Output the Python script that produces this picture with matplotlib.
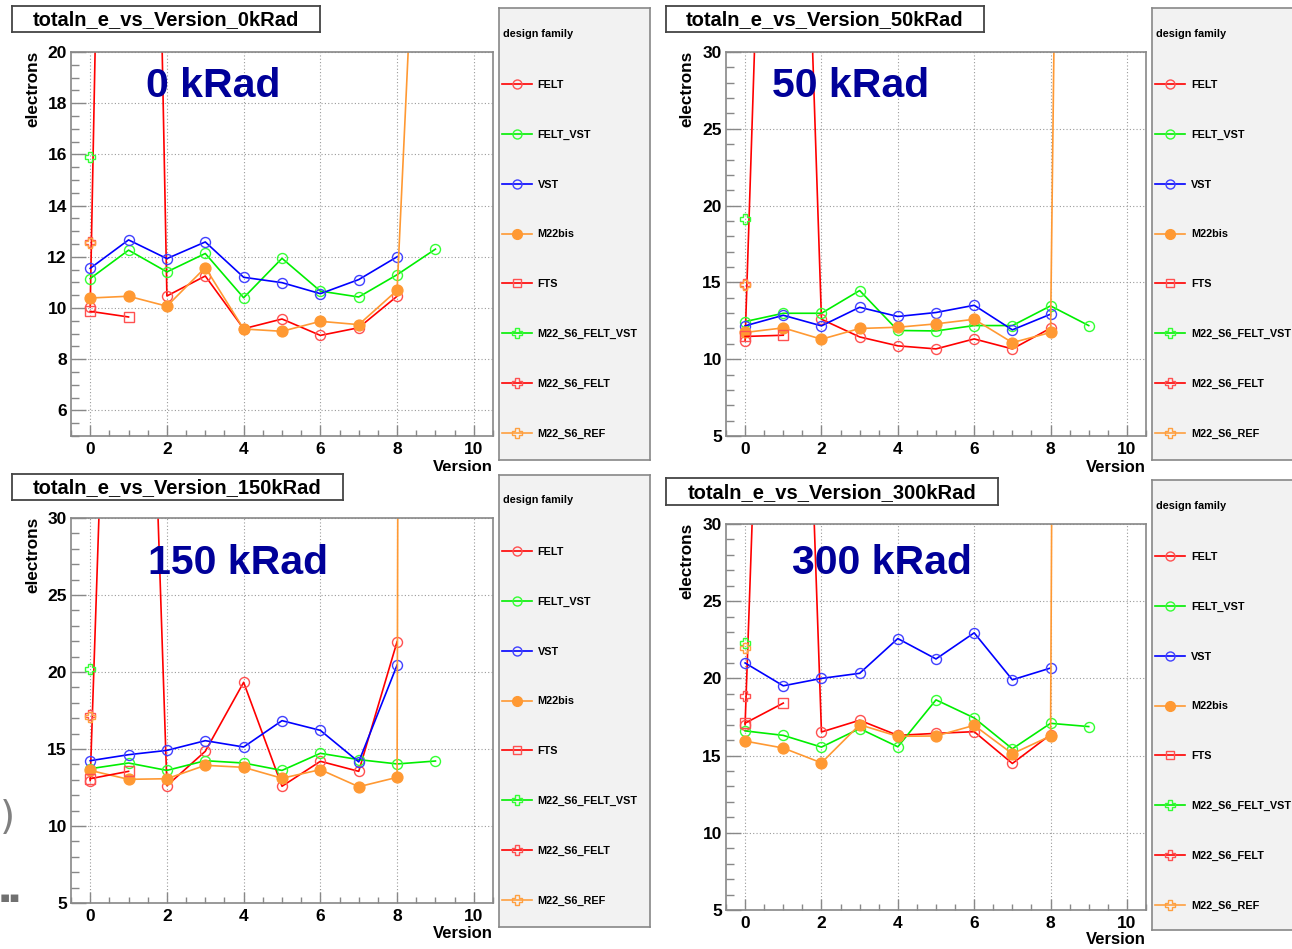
import matplotlib
matplotlib.use("Agg")
import matplotlib.pyplot as plt
from matplotlib.ticker import MultipleLocator

W, H = 1292, 949
FONT = ["Liberation Sans", "DejaVu Sans"]
plt.rcParams["font.family"] = FONT
plt.rcParams["font.weight"] = "bold"

VERSIONS = [0, 1, 2, 3, 4, 5, 6, 7, 8, 9]
SERIES = ["FELT", "FELT_VST", "VST", "M22bis", "FTS",
          "M22_S6_FELT_VST", "M22_S6_FELT", "M22_S6_REF"]
DOSES = ["0kRad", "50kRad", "150kRad", "300kRad"]
DOSE_LABELS = ["0 kRad", "50 kRad", "150 kRad", "300 kRad"]

# ---- 0 kRad ----
felt_0 = [10.04, 88, 10.47, 11.25, 9.19, 9.57, 8.93, 9.23, 10.46]
felt_vst_0 = [11.15, 12.26, 11.41, 12.13, 10.40, 11.94, 10.66, 10.43, 11.30, 12.30]
vst_0 = [11.55, 12.66, 11.93, 12.58, 11.20, 10.99, 10.56, 11.11, 12.00]
m22bis_0 = [10.39, 10.46, 10.07, 11.58, 9.18, 9.09, 9.48, 9.35, 10.69, 43]
fts_0 = [9.87, 9.65]
s6_felt_vst_0 = [15.90]
s6_felt_0 = [12.58]
s6_ref_0 = [12.55]

# ---- 50 kRad ----
felt_50 = [11.19, 88, 12.60, 11.45, 10.87, 10.67, 11.32, 10.67, 12.02]
felt_vst_50 = [12.45, 12.99, 12.99, 14.47, 11.87, 11.84, 12.19, 12.19, 13.47, 12.19]
vst_50 = [12.17, 12.86, 12.17, 13.38, 12.78, 13.04, 13.51, 11.91, 12.93]
m22bis_50 = [11.74, 12.04, 11.30, 12.00, 12.08, 12.30, 12.60, 11.08, 11.74, 220]
fts_50 = [11.48, 11.56]
s6_felt_vst_50 = [19.15]
s6_felt_50 = [14.90]
s6_ref_50 = [14.85]

# ---- 150 kRad ----
felt_150 = [12.95, 88, 12.62, 14.85, 19.33, 12.58, 14.20, 13.55, 21.97]
felt_vst_150 = [13.72, 14.09, 13.61, 14.24, 14.09, 13.61, 14.72, 14.31, 14.03, 14.22]
vst_150 = [14.24, 14.63, 14.91, 15.54, 15.13, 16.84, 16.21, 14.16, 20.45]
m22bis_150 = [13.61, 13.03, 13.07, 13.94, 13.81, 13.10, 13.66, 12.55, 13.16, 1000]
fts_150 = [13.07, 13.55]
s6_felt_vst_150 = [20.20]
s6_felt_150 = [17.23]
s6_ref_150 = [17.10]

# ---- 300 kRad ----
felt_300 = [17.00, 88, 16.53, 17.29, 16.31, 16.44, 16.55, 14.49, 16.36]
felt_vst_300 = [16.60, 16.31, 15.55, 16.75, 15.57, 18.61, 17.44, 15.44, 17.09, 16.88]
vst_300 = [21.00, 19.52, 20.00, 20.33, 22.58, 21.26, 22.95, 19.91, 20.67]
m22bis_300 = [15.94, 15.49, 14.53, 17.00, 16.25, 16.27, 16.96, 15.12, 16.27, 500]
fts_300 = [17.10, 18.40]
s6_felt_vst_300 = [22.28]
s6_felt_300 = [18.83]
s6_ref_300 = [22.00]

PANEL_DATA = [
    [felt_0, felt_vst_0, vst_0, m22bis_0, fts_0, s6_felt_vst_0, s6_felt_0, s6_ref_0],
    [felt_50, felt_vst_50, vst_50, m22bis_50, fts_50, s6_felt_vst_50, s6_felt_50, s6_ref_50],
    [felt_150, felt_vst_150, vst_150, m22bis_150, fts_150, s6_felt_vst_150, s6_felt_150, s6_ref_150],
    [felt_300, felt_vst_300, vst_300, m22bis_300, fts_300, s6_felt_vst_300, s6_felt_300, s6_ref_300],
]

RED, GREEN, BLUE, ORANGE = "#ff0000", "#00ee00", "#0000ff", "#ff9933"
STYLES = [
    dict(color=RED, marker="o", mfc="none", mec="#ff5050", ms=7.2),
    dict(color=GREEN, marker="o", mfc="none", mec="#33ff33", ms=7.2),
    dict(color=BLUE, marker="o", mfc="none", mec="#4040ff", ms=7.2),
    dict(color=ORANGE, marker="o", mfc=ORANGE, mec=ORANGE, ms=7.8),
    dict(color=RED, marker="s", mfc="none", mec="#ff5050", ms=6.8),
    dict(color=GREEN, marker="P", mfc="none", mec="#33ff33", ms=7.5),
    dict(color=RED, marker="P", mfc="none", mec="#ff5050", ms=7.5),
    dict(color="#ffa040", marker="P", mfc="none", mec="#ffa040", ms=7.5),
]

LAYOUT = [
    dict(ax=(71, 52, 493, 436), title=(12, 6, 320, 32), leg=(499, 8, 650, 460),
         ylim=(5, 20), ymaj=2, ymin=0.5, xlab_y=468, lab=(146, 86)),
    dict(ax=(726, 52, 1146, 436), title=(666, 6, 984, 32), leg=(1152, 8, 1310, 460),
         ylim=(5, 30), ymaj=5, ymin=1, xlab_y=467, lab=(772, 86)),
    dict(ax=(71, 518, 493, 903), title=(12, 474, 343, 500), leg=(499, 475, 650, 927),
         ylim=(5, 30), ymaj=5, ymin=1, xlab_y=934, lab=(148, 563)),
    dict(ax=(726, 524, 1146, 910), title=(666, 478, 998, 505), leg=(1152, 480, 1310, 930),
         ylim=(5, 30), ymaj=5, ymin=1, xlab_y=939, lab=(792, 563)),
]


def frect(l, t, r, b):
    return [l / W, 1 - b / H, (r - l) / W, (b - t) / H]


fig = plt.figure(figsize=(W / 100, H / 100), dpi=100)
fig.patch.set_facecolor("white")

for i, (dose, dlabel, data, lay) in enumerate(zip(DOSES, DOSE_LABELS, PANEL_DATA, LAYOUT)):
    z = 1 if i < 2 else 3
    if i == 2:
        pad = fig.add_axes(frect(0, 471, 660, H))
        pad.set_zorder(2)
        pad.set_facecolor("white")
        pad.set_xticks([]); pad.set_yticks([])
        for sp in pad.spines.values():
            sp.set_visible(False)
    ax = fig.add_axes(frect(*lay["ax"]))
    ax.set_zorder(z)
    ax.set_facecolor("white")
    handles = []
    for name, vals, st in zip(SERIES, data, STYLES):
        ln, = ax.plot(VERSIONS[:len(vals)], vals, lw=1.2, mew=1.0, label=name, **st)
        handles.append(ln)
    ax.set_xlim(-0.5, 10.5)
    ax.set_ylim(*lay["ylim"])
    ax.xaxis.set_major_locator(MultipleLocator(2))
    ax.xaxis.set_minor_locator(MultipleLocator(0.5))
    ax.yaxis.set_major_locator(MultipleLocator(lay["ymaj"]))
    ax.yaxis.set_minor_locator(MultipleLocator(lay["ymin"]))
    ax.grid(True, which="major", color="#9a9a9a", lw=0.8, ls=(0, (1, 2)))
    ax.set_axisbelow(True)
    ax.tick_params(axis="both", which="both", direction="in", colors="#888888",
                   labelcolor="black", labelsize=12.5, width=1.0)
    ax.tick_params(axis="y", which="major", length=11, pad=3)
    ax.tick_params(axis="y", which="minor", length=6)
    ax.tick_params(axis="x", which="major", length=8, pad=4)
    ax.tick_params(axis="x", which="minor", length=4.5)
    for lab in ax.get_xticklabels() + ax.get_yticklabels():
        lab.set_fontweight("bold")
    for sp in ax.spines.values():
        sp.set_color("#888888")
        sp.set_linewidth(1.2)
    lx, ly = lay["lab"]
    ax.text(lx / W, 1 - ly / H, dlabel, transform=fig.transFigure, color="#000099",
            fontsize=29.5, fontweight="bold", ha="left", va="center", zorder=10)
    l, t, r, b = lay["ax"]
    fig.text(33 / W if i % 2 == 0 else 687 / W, 1 - (t - 1) / H, "electrons", rotation=90,
             ha="center", va="top", fontsize=12.3, fontweight="bold")
    ax.text(r / W, 1 - lay["xlab_y"] / H, "Version", transform=fig.transFigure,
            ha="right", va="center", fontsize=12, fontweight="bold", clip_on=False)

    tl, tt, tr, tb = lay["title"]
    tax = fig.add_axes(frect(tl, tt, tr, tb))
    tax.set_zorder(z + 1)
    tax.set_xticks([]); tax.set_yticks([])
    tax.set_facecolor("white")
    for sp in tax.spines.values():
        sp.set_color("#444444")
        sp.set_linewidth(1.3)
    tax.text(0.5, 0.47, "totaln_e_vs_Version_" + dose, ha="center", va="center",
             fontsize=14.5, fontweight="bold", transform=tax.transAxes)

    ll, lt, lr, lb = lay["leg"]
    lax = fig.add_axes(frect(ll, lt, lr, lb))
    lax.set_zorder(z + 1)
    lax.set_xticks([]); lax.set_yticks([])
    lax.set_facecolor("#f2f2f2")
    for sp in lax.spines.values():
        sp.set_color("#888888")
        sp.set_linewidth(1.2)
    hgt = lb - lt
    lax.text(4 / (lr - ll), 1 - 25.5 / hgt, "design family", ha="left", va="center",
             fontsize=7.8, fontweight="bold", transform=lax.transAxes)
    leg = lax.legend(handles, SERIES, loc="upper left",
                     bbox_to_anchor=(3 / (lr - ll), 1 - 72 / hgt),
                     frameon=False, fontsize=7.8, labelspacing=3.67,
                     handlelength=2.75, handletextpad=0.55, borderpad=0,
                     borderaxespad=0, markerscale=0.9)
    for txt in leg.get_texts():
        txt.set_fontweight("bold")

fig.text(0.0, 1 - 818 / H, ")", color="#808080", fontsize=28, ha="left", va="center",
         family=["DejaVu Sans"], fontweight="normal", zorder=20)
fig.text(0.0, 1 - 898 / H, "▪▪", color="#707070", fontsize=11, ha="left", va="center",
         family=["DejaVu Sans"], zorder=20)

fig.savefig("out.png", dpi=100)
